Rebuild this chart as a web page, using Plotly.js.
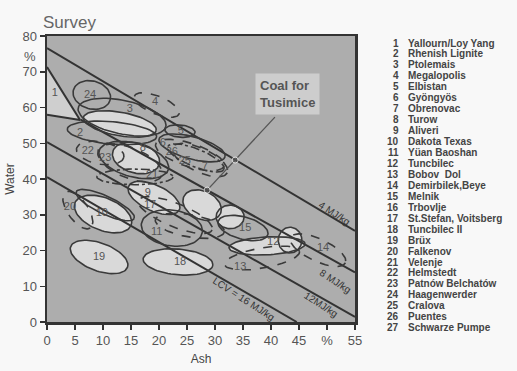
<!DOCTYPE html>
<html><head><meta charset="utf-8">
<script src="https://cdn.plot.ly/plotly-3.0.1.min.js"></script>
<style>html,body{margin:0;padding:0;background:#f8f8f8;}#chart{width:517px;height:371px;}</style>
</head><body><div id="chart"></div>
<script>
// ---- data ----
const xTickVals = [0,5,10,15,20,25,30,35,40,45,50,55];
const xTickText = ['0','5','10','15','20','25','30','35','40','45','%','55'];
const yTickVals = [0,10,20,30,40,50,60,70,80];

// LCV lines (ash, water end points)
const lcvNames = ['4 MJ/kg','8 MJ/kg','12MJ/kg','LCV = 16 MJ/kg'];
const lcvAsh0 = [0, 6, 0, 0];
const lcvWater0 = [76.6, 56.6, 50.3, 40.5];
const lcvAsh1 = [55, 55, 55, 44.6];
const lcvWater1 = [25.5, 13.9, 1.4, 0];

// Region 1 boundary (Yallourn)
const region1Ash = [0, 5.9, 0];
const region1Water = [71.3, 56.5, 58];

// coal field ellipses: centre ash, centre water, semi axes (ash %), tilt (deg), line style, light fill
const ellAsh   = [8.0, 13.4, 13.0, 19.6, 23.75, 11.6, 9.5, 14.8, 15.9, 15.5, 15.7, 25.9, 25.5, 26.6, 27.3, 19.1, 22.9, 22.3, 25.5, 27.7, 32.7, 35.0, 39.3, 43.4, 48.4, 38.4, 23.4, 9.3, 10.0, 5.5, 10.4];
const ellWater = [63.5, 57.3, 55.4, 60.7, 53.4, 52.9, 47.3, 44.5, 45.9, 45.3, 40.6, 48.7, 46.7, 45.9, 45.3, 34.7, 29.9, 26.3, 26.9, 32.7, 29.4, 26.3, 21.3, 22.9, 20.1, 17.9, 16.8, 18.2, 30.2, 31.3, 32.7];
const ellA     = [3.4, 8.0, 6.6, 4.3, 2.7, 8.0, 4.3, 6.1, 4.3, 6.4, 6.8, 6.1, 6.4, 5.4, 5.4, 5.0, 7.1, 5.5, 6.25, 3.6, 2.5, 4.6, 6.8, 2.1, 5.4, 6.8, 6.25, 5.4, 5.4, 3.9, 5.7];
const ellB     = [2.5, 3.0, 2.1, 1.6, 1.1, 2.0, 2.0, 2.7, 2.7, 3.0, 1.4, 2.0, 2.1, 1.6, 2.1, 2.3, 2.1, 3.2, 2.0, 2.5, 2.1, 2.0, 1.6, 2.3, 2.0, 1.8, 2.3, 2.5, 2.9, 1.8, 1.6];
const ellTilt  = [15, 12, 10, 22, 5, 5, 10, 22, 15, 15, 0, 15, 18, 22, 25, 25, 22, 8, 10, 25, 0, 15, -3, 0, 25, -10, 5, 20, 22, 55, 25];
const ellDash  = ['solid','solid','solid','dash','solid','solid','dash','dash','solid','solid','dashdot','solid','dash','dashdot','dash','solid','dash','solid','dash','solid','solid','solid','solid','solid','dash','dash','solid','solid','solid','dash','solid'];
const ellLight = [0,0,1,0,0,0,0,0,1,0,0,0,0,0,0,1,0,0,0,1,1,0,1,1,0,0,1,1,1,0,0];

// field number labels
const fieldNum   = ['1','24','3','4','5','2','22','23','8','21','6','26','25','7','9','17','11','15','12','14','13','18','19','10','20'];
const fieldAsh   = [1.4, 7.7, 14.8, 19.3, 23.9, 5.9, 7.3, 10.4, 17.1, 18.75, 20.7, 22.3, 24.6, 28.2, 18.0, 18.4, 19.6, 35.4, 40.4, 49.3, 34.5, 23.75, 9.3, 9.8, 4.1];
const fieldWater = [64.0, 63.5, 59.6, 61.5, 53.4, 52.9, 47.8, 45.9, 48.7, 41.1, 50.1, 47.6, 45.0, 43.4, 36.1, 32.7, 25.2, 26.3, 22.4, 20.7, 15.4, 16.8, 18.2, 30.5, 32.2];

// Tusimice pointer
const tusAsh = [40.7, 33.6, 28.6];
const tusWater = [57.3, 45.3, 36.9];

// survey list
const surveyNo = ['1','2','3','4','5','6','7','8','9','10','11','12','13','14','15','16','17','18','19','20','21','22','23','24','25','26','27'];
const surveyName = ['Yallourn/Loy Yang','Rhenish Lignite','Ptolemais','Megalopolis','Elbistan','Gyöngyös','Obrenovac','Turow','Aliveri','Dakota Texas','Yüan Baoshan','Tuncbilec','Bobov  Dol','Demirbilek,Beye','Melnik','Trbovlje','St.Stefan, Voitsberg','Tuncbilec II','Brüx','Falkenov','Velenje','Helmstedt','Patnów Belchatów','Haagenwerder','Cralova','Puentes','Schwarze Pumpe'];

// ---- drawing ----
const W = 517, H = 371, ML = 47, MR = 162, MT = 36, MB = 49;
const pxAsh = (W-ML-MR)/55, pxWater = (H-MT-MB)/80;
const ratio = pxAsh/pxWater;
const LINE = '#333333', LIGHT = '#d9d9d9', BG = '#adadad';

function ellipse(i){
  const th = ellTilt[i]*Math.PI/180, xs=[], ys=[];
  for(let k=0;k<=72;k++){
    const t = k/72*2*Math.PI;
    const u = ellA[i]*Math.cos(t), v = ellB[i]*Math.sin(t);
    const dx = u*Math.cos(th) - v*Math.sin(th);
    const dy = u*Math.sin(th) + v*Math.cos(th);
    xs.push(ellAsh[i]+dx); ys.push(ellWater[i]-dy*ratio);
  }
  return {xs, ys};
}

const traces = [];
// region 1 light fill
traces.push({x: region1Ash.concat([region1Ash[0]]), y: region1Water.concat([region1Water[0]]), mode:'lines', fill:'toself', fillcolor:'#cfcfcf', line:{width:0}, hoverinfo:'skip', showlegend:false});
// light fills
for(let i=0;i<ellAsh.length;i++){
  if(!ellLight[i]) continue;
  const e = ellipse(i);
  traces.push({x:e.xs, y:e.ys, mode:'lines', fill:'toself', fillcolor:LIGHT, line:{width:0}, hoverinfo:'skip', showlegend:false});
}
// LCV lines
for(let i=0;i<lcvNames.length;i++){
  traces.push({x:[lcvAsh0[i], lcvAsh1[i]], y:[lcvWater0[i], lcvWater1[i]], mode:'lines', line:{color:LINE, width:2}, hoverinfo:'skip', showlegend:false});
}
// region 1 lines
traces.push({x:[region1Ash[0], region1Ash[1], region1Ash[2]], y:[region1Water[0], region1Water[1], region1Water[2]], mode:'lines', line:{color:LINE, width:2}, hoverinfo:'skip', showlegend:false});
// outlines
for(let i=0;i<ellAsh.length;i++){
  const e = ellipse(i);
  traces.push({x:e.xs, y:e.ys, mode:'lines', line:{color:'#3a3a3a', width:1.6, dash:ellDash[i]}, hoverinfo:'skip', showlegend:false});
}
// Tusimice pointer
traces.push({x:tusAsh, y:tusWater, mode:'lines+markers', line:{color:'#555', width:1.3}, marker:{size:[0,6,6], color:'#555'}, hoverinfo:'skip', showlegend:false});
// field labels
traces.push({x:fieldAsh, y:fieldWater, mode:'text', text:fieldNum, textfont:{family:'Liberation Sans, Arial', size:11, color:'#555'}, hoverinfo:'skip', showlegend:false, cliponaxis:false});

const annotations = [];
// LCV labels
const lcvLabAsh = [51.4, 51.6, 48.9, 35.0];
const lcvLabWater = [30.4, 11.4, 4.8, 6.5];
for(let i=0;i<lcvNames.length;i++){
  annotations.push({x:lcvLabAsh[i], y:lcvLabWater[i], xref:'x', yref:'y', text:lcvNames[i], showarrow:false, textangle:33, font:{family:'Liberation Sans, Arial', size:10, color:'#333'}});
}
// Tusimice label
annotations.push({x:(287-ML)/pxAsh, y:(H-MB-94)/pxWater, xref:'x', yref:'y', text:'<b>Coal for<br>Tusimice</b>', showarrow:false, align:'left', bgcolor:'#cdcdcd', borderpad:4, font:{family:'Liberation Sans, Arial', size:13, color:'#555'}});
// % on y axis
annotations.push({x:-0.028, y:74.3, xref:'paper', yref:'y', text:'%', showarrow:false, xanchor:'right', font:{family:'Liberation Sans, Arial', size:13, color:'#555'}});
// survey list
for(let i=0;i<surveyNo.length;i++){
  const ypx = 43 + i*10.95;
  const yp = (H-MB-ypx)/(H-MT-MB);
  annotations.push({x:(401-ML)/(W-ML-MR), y:yp, xref:'paper', yref:'paper', text:'<b>'+surveyNo[i]+'</b>', showarrow:false, xanchor:'right', yanchor:'middle', font:{family:'Liberation Sans, Arial', size:10, color:'#444'}});
  annotations.push({x:(406-ML)/(W-ML-MR), y:yp, xref:'paper', yref:'paper', text:'<b>'+surveyName[i]+'</b>', showarrow:false, xanchor:'left', yanchor:'middle', font:{family:'Liberation Sans, Arial', size:10, color:'#444'}});
}

const layout = {
  width:W, height:H,
  margin:{l:ML, r:MR, t:MT, b:MB, pad:0},
  paper_bgcolor:'#f8f8f8', plot_bgcolor:BG,
  font:{family:'Liberation Sans, Arial', color:'#555'},
  title:{text:'Survey', x:43/W, xanchor:'left', y:1-22/H, yanchor:'middle', font:{size:17, color:'#666'}},
  xaxis:{range:[0,55], tickvals:xTickVals, ticktext:xTickText, ticks:'outside', ticklen:5, tickwidth:1.5, tickcolor:'#333', showgrid:false, zeroline:false, showline:true, linecolor:'#333', linewidth:2.5, mirror:true, tickfont:{size:13, color:'#555'}, title:{text:'Ash', font:{size:12, color:'#444'}, standoff:8}, automargin:false, fixedrange:true},
  yaxis:{range:[0,80], tickvals:yTickVals, ticks:'outside', ticklen:5, tickwidth:1.5, tickcolor:'#333', showgrid:false, zeroline:false, showline:true, linecolor:'#333', linewidth:2.5, mirror:true, tickfont:{size:13, color:'#555'}, title:{text:'Water', font:{size:12, color:'#444'}, standoff:5}, automargin:false, fixedrange:true},
  annotations:annotations,
  showlegend:false
};
Plotly.newPlot('chart', traces, layout, {staticPlot:true, displayModeBar:false});
</script></body></html>
